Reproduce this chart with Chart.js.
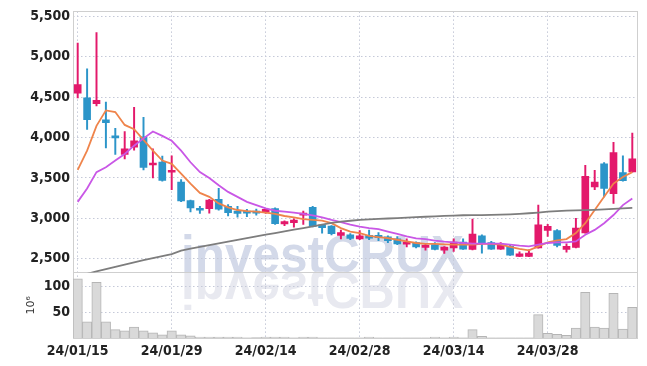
<!DOCTYPE html>
<html><head><meta charset="utf-8">
<script src="https://cdn.jsdelivr.net/npm/chart.js@4/dist/chart.umd.min.js"></script>
<style>html,body{margin:0;padding:0;background:#fff}</style>
</head><body>
<canvas id="c" width="647" height="366"></canvas>
<script>
// ---------- DATA ----------
const dates = ["24/01/15","24/01/16","24/01/17","24/01/18","24/01/19","24/01/22","24/01/23","24/01/24","24/01/25","24/01/26",
"24/01/29","24/01/30","24/01/31","24/02/01","24/02/02","24/02/05","24/02/06","24/02/07","24/02/08","24/02/13",
"24/02/14","24/02/15","24/02/16","24/02/19","24/02/20","24/02/21","24/02/22","24/02/23","24/02/26","24/02/27",
"24/02/28","24/02/29","24/03/04","24/03/05","24/03/06","24/03/07","24/03/08","24/03/11","24/03/12","24/03/13",
"24/03/14","24/03/15","24/03/18","24/03/19","24/03/20","24/03/21","24/03/22","24/03/25","24/03/26","24/03/27",
"24/03/28","24/03/29","24/04/01","24/04/02","24/04/03","24/04/04","24/04/05","24/04/08","24/04/09","24/04/11"];

const opens  = [4550,4490,4420,4220,4010,3790,3880,4010,3660,3695, 3570,3450,3220,3105,3120,3235,3150,3090,3080,3090,
                3075,3120,2930,2945,3040,3135,2920,2905,2790,2795, 2745,2790,2790,2770,2745,2680,2700,2640,2675,2605,
                2635,2705,2615,2785,2700,2620,2655,2530,2530,2635, 2850,2850,2615,2640,2820,3390,3675,3305,3565,3575];
const highs  = [5170,4850,5300,4440,4115,4075,4375,4250,3860,3770, 3775,3480,3225,3150,3235,3370,3170,3150,3110,3115,
                3125,3130,2970,2995,3090,3150,2925,2910,2855,2810, 2850,2855,2825,2785,2775,2745,2710,2685,2700,2650,
                2745,2745,2990,2795,2715,2700,2675,2585,2610,3165, 2925,2860,2685,3000,3655,3595,3690,3940,3775,4055];
const lows   = [4490,4100,4390,3870,3790,3735,3845,3600,3500,3460, 3355,3205,3080,3060,3065,3100,3030,3015,3020,3040,
                3060,2925,2910,2890,2925,2895,2815,2795,2745,2735, 2735,2735,2725,2700,2675,2645,2635,2605,2610,2565,
                2590,2615,2610,2570,2615,2615,2540,2525,2525,2630, 2775,2645,2580,2635,2815,3355,3265,3185,3460,3570];
const closes = [4655,4220,4460,4185,3995,3860,3960,3630,3685,3470, 3595,3215,3130,3100,3225,3115,3070,3060,3065,3065,
                3110,2935,2960,2980,3055,2900,2885,2810,2825,2750, 2785,2755,2760,2725,2685,2700,2645,2650,2615,2645,
                2705,2620,2805,2700,2620,2665,2545,2560,2570,2920, 2900,2665,2655,2880,3520,3450,3370,3815,3465,3735];

// volume, millions of shares
const volumes = [114,31,107,31,16,14,21,14,10,6, 14,6,4,2,2,2,2,2,0.5,1,
                 2,2,2,0.5,2,2,0.5,0.5,0.5,0.5, 0.5,2,0.5,0.5,0.5,0.5,0.5,0.5,2,0.5,
                 2,0.5,16,3,0.5,0.5,0.5,0.5,0.5,45, 9,7,5,19,88,21,19,86,17,59];

// moving averages
const maShort = [3601,3838,4144,4336,4315,4156,4103,3970,3838,3715, 3675,3552,3430,3315,3266,3185,3135,3103,3090,3082,
                 3070,3054,3029,3013,2989,2980,2972,2940,2879,2837, 2817,2784,2768,2756,2735,2715,2695,2683,2683,2679,
                 2674,2674,2674,2683,2683,2674,2646,2621,2604,2654, 2702,2727,2744,2817,2940,3103,3266,3430,3511,3572];
const maMid   = [3204,3369,3572,3633,3715,3797,3899,3990,4075,4021, 3960,3838,3694,3572,3500,3409,3327,3266,3204,3164,
                 3123,3094,3082,3070,3054,3037,3013,2980,2952,2923, 2898,2879,2866,2837,2809,2776,2752,2744,2723,2711,
                 2702,2695,2686,2686,2686,2686,2674,2662,2654,2674, 2695,2702,2702,2715,2796,2857,2940,3041,3164,3246];
const maLong  = [2283,2313,2343,2372,2400,2428,2455,2482,2508,2533, 2557,2600,2624,2646,2668,2690,2712,2734,2756,2777,
                 2798,2818,2838,2860,2880,2900,2922,2945,2960,2970, 2980,2987,2993,2998,3003,3008,3015,3020,3025,3030,
                 3034,3038,3040,3041,3043,3046,3050,3056,3063,3072, 3082,3090,3095,3098,3102,3106,3112,3118,3124,3130];

const priceTicks = [2500,3000,3500,4000,4500,5000,5500];
const volumeTicks = [50,100];

// ---------- STYLE ----------
const UP = '#e3196b', DOWN = '#2c95c9';
const GRID = '#c5c9d8';
const FONT = "'Liberation Sans Narrow','DejaVu Sans Condensed','Arial Narrow',sans-serif";
const tickFont = {family: FONT, size: 14, weight: 'bold'};

const candleColors = opens.map((o, i) => closes[i] >= o ? UP : DOWN);
const wickData = lows.map((l, i) => [l, highs[i]]);
const bodyData = opens.map((o, i) => [o, closes[i]]);

const watermark = {
  id: 'wm',
  beforeDraw(chart) {
    const {ctx} = chart; const y = chart.scales.y;
    const base = y.bottom;
    ctx.save();
    ctx.font = "bold 52px 'Liberation Sans', Arial, sans-serif";
    ctx.textBaseline = 'alphabetic';
    ctx.fillStyle = '#d3d9e9';
    ctx.fillText('investCRUX', 181, base, 283);
    ctx.translate(0, 2 * base); ctx.scale(1, -1);
    ctx.fillStyle = '#e8e9f0';
    ctx.fillText('investCRUX', 181, base, 283);
    ctx.restore();
  }
};
const frame = {
  id: 'frame',
  beforeDatasetsDraw(chart) {
    const {ctx, chartArea: a, scales} = chart;
    ctx.save(); ctx.strokeStyle = '#cfcfcf'; ctx.lineWidth = 1;
    for (const id of ['y', 'y2']) {
      const s = scales[id];
      ctx.strokeRect(Math.round(a.left) + 0.5, Math.round(s.top) + 0.5,
                     Math.round(a.right - a.left), Math.round(s.bottom - s.top));
    }
    ctx.restore();
  }
};

new Chart(document.getElementById('c'), {
  data: {
    labels: dates,
    datasets: [
      {type: 'line', data: maLong, borderColor: '#7d7d7d', borderWidth: 1.8, pointRadius: 0, yAxisID: 'y', order: 0},
      {type: 'line', data: maMid, borderColor: '#c957e6', borderWidth: 1.8, pointRadius: 0, yAxisID: 'y', order: 0},
      {type: 'line', data: maShort, borderColor: '#ef844b', borderWidth: 1.8, pointRadius: 0, yAxisID: 'y', order: 0},
      {type: 'bar', data: wickData, backgroundColor: candleColors, barThickness: 1.3, grouped: false, yAxisID: 'y', order: 2},
      {type: 'bar', data: bodyData, backgroundColor: candleColors, barThickness: 7, minBarLength: 2, grouped: false, yAxisID: 'y', order: 1},
      {type: 'bar', data: volumes, backgroundColor: '#d9d9d9', borderColor: '#b5b5b5', borderWidth: 1,
       barPercentage: 1, categoryPercentage: 1, grouped: false, yAxisID: 'y2', order: 3}
    ]
  },
  options: {
    responsive: false, animation: false,
    layout: {padding: {top: 9, right: 10, left: 0, bottom: 0}},
    plugins: {legend: {display: false}, tooltip: {enabled: false}},
    scales: {
      x: {
        type: 'category', offset: true,
        grid: {offset: false, drawTicks: false, color: c => (c.index % 10 === 0 ? GRID : 'rgba(0,0,0,0)')},
        border: {display: false, dash: [1.5, 2.5]},
        ticks: {autoSkip: false, maxRotation: 0, minRotation: 0, padding: 5, font: tickFont, color: '#222',
                callback: (v, i) => (i % 10 === 0 ? dates[i] : '')},
        afterFit: s => { s.height = 28; }
      },
      y2: {
        type: 'linear', position: 'left', stack: 'panels', stackWeight: 66,
        min: 0, max: 126,
        afterBuildTicks: s => { s.ticks = volumeTicks.map(v => ({value: v})); },
        ticks: {padding: 3, font: tickFont, color: '#222'},
        grid: {color: GRID, drawTicks: false},
        border: {display: false, dash: [1.5, 2.5]},
        title: {display: true, text: '10⁶', color: '#333', font: {family: "'DejaVu Sans',sans-serif", size: 11},
                padding: {top: 25, bottom: 0}},
        afterFit: s => { s.width = 73; }
      },
      y: {
        type: 'linear', position: 'left', stack: 'panels', stackWeight: 263,
        min: 2330, max: 5561,
        afterBuildTicks: s => { s.ticks = priceTicks.map(v => ({value: v})); },
        ticks: {padding: 3, font: tickFont, color: '#222'},
        grid: {color: GRID, drawTicks: false},
        border: {display: false, dash: [1.5, 2.5]},
        afterFit: s => { s.width = 73; }
      }
    }
  },
  plugins: [watermark, frame]
});
</script>
</body></html>
